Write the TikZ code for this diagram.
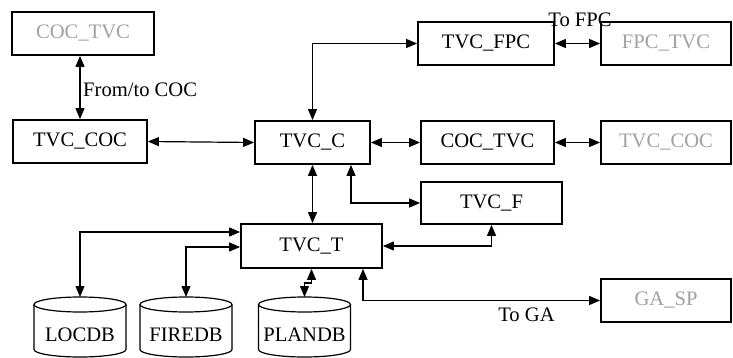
\documentclass[tikz,border=0pt]{standalone}
\usepackage{fontspec}
\setmainfont{Liberation Serif}
\usetikzlibrary{arrows.meta,calc}
\definecolor{lg}{RGB}{160,160,160}
\begin{document}
\begin{tikzpicture}[x=1pt,y=-1pt,
  every node/.style={font=\fontsize{20.6}{24}\selectfont},
  box/.style={draw,line width=1.8pt,minimum height=43pt,inner sep=0pt},
  gbox/.style={box,text=lg},
  lbl/.style={inner sep=0pt},
  conn/.style={line width=1.2pt,{Triangle[length=11pt,width=9pt]}-{Triangle[length=11pt,width=9pt]}},
  cylline/.style={line width=1.2pt},
  db/.pic={
    \draw[cylline,fill=white] (-46,7.5) -- (-46,52.5) arc[start angle=180,end angle=0,x radius=46,y radius=7.5] -- (46,7.5);
    \draw[cylline] (0,7.5) ellipse[x radius=46,y radius=7.5];
  }]
\useasboundingbox (0,0) rectangle (733,358);

% boxes
\node[gbox,minimum width=142pt] (coctvcG) at (83,33.5) {COC\_TVC};
\node[box,minimum width=134pt] (tvccoc) at (80,141.5) {TVC\_COC};
\node[box,minimum width=115pt] (tvcc) at (312.5,142.5) {TVC\_C};
\node[box,minimum width=136pt] (tvcfpc) at (486,43.5) {TVC\_FPC};
\node[gbox,minimum width=130pt] (fpctvc) at (666,43.5) {FPC\_TVC};
\node[box,minimum width=133pt] (coctvc) at (487.5,142.5) {COC\_TVC};
\node[gbox,minimum width=130pt] (tvccocG) at (666,142.5) {TVC\_COC};
\node[box,minimum width=141pt,minimum height=42pt] (tvcf) at (491.5,203) {TVC\_F};
\node[box,minimum width=141pt,minimum height=44pt] (tvct) at (311.5,246) {TVC\_T};
\node[gbox,minimum width=130pt] (gasp) at (666,300.5) {GA\_SP};

% databases
\pic at (80,297) {db};
\pic at (186,297) {db};
\pic at (304.5,297) {db};
\coordinate (locdb) at (80,297);
\coordinate (firedb) at (186,297);
\coordinate (plandb) at (304.5,297);
\node[lbl] (locdbt) at (80,334.5) {LOCDB};
\node[lbl] (firedbt) at (186,334.5) {FIREDB};
\node[lbl] (plandbt) at (304.5,334.5) {PLANDB};

% labels
\node[lbl,anchor=west] (lfrom) at (83,90) {From/to COC};
\node[lbl] (lfpc) at (580,19.5) {To FPC};
\node[lbl] (lga) at (526.5,314.5) {To GA};

% connectors
\draw[conn] (tvccoc.north) -- (tvccoc.north |- coctvcG.south);
\draw[conn] (tvccoc.east) -- (tvcc.west);
\draw[conn] (tvcc.north) |- (tvcfpc.west);
\draw[conn] (tvcfpc.east) -- (fpctvc.west);
\draw[conn] (tvcc.east) -- (coctvc.west);
\draw[conn] (coctvc.east) -- (tvccocG.west);
\draw[conn] (tvcc.south) -- (tvcc.south |- tvct.north);
\draw[conn] ([xshift=38.5pt]tvcc.south) |- (tvcf.west);
\draw[conn] (tvct.east) -| (tvcf.south);
\draw[conn] ([xshift=51.5pt]tvct.south) |- (gasp.west);
\draw[conn] (locdb) |- ([yshift=14pt]tvct.west);
\draw[conn] (firedb) |- ([yshift=-1pt]tvct.west);
\draw[conn] (tvct.south) -- ++(0,14) -| (plandb);
\end{tikzpicture}
\end{document}
